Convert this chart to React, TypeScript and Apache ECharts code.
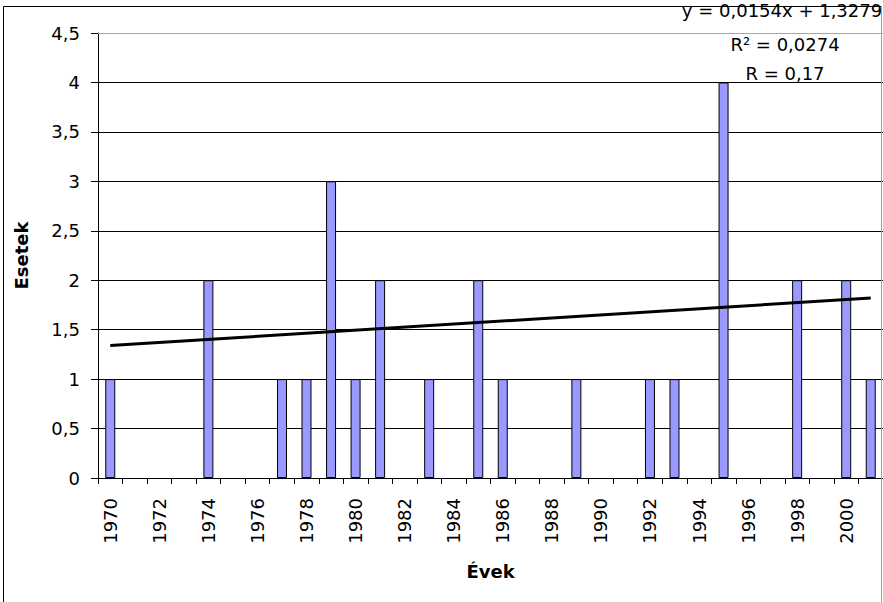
import React, { useEffect, useRef } from "react";
import * as echarts from "echarts";

const years: string[] = [
  "1970", "1971", "1972", "1973", "1974", "1975", "1976", "1977", "1978", "1979",
  "1980", "1981", "1982", "1983", "1984", "1985", "1986", "1987", "1988", "1989",
  "1990", "1991", "1992", "1993", "1994", "1995", "1996", "1997", "1998", "1999",
  "2000", "2001",
];
const cases: number[] = [
  1, 0, 0, 0, 2, 0, 0, 1, 1, 3,
  1, 2, 0, 1, 0, 2, 1, 0, 0, 1,
  0, 0, 1, 1, 0, 4, 0, 0, 2, 0,
  2, 1,
];
// trend line end points (first and last year)
const trendYears: string[] = ["1970", "2001"];
const trendValues: number[] = [1.34, 1.82];
const equationLines: string[] = ["y = 0,0154x + 1,3279", "R² = 0,0274", "R = 0,17"];
const yTicks = { min: 0, max: 4.5, interval: 0.5 };

const FONT = "DejaVu Sans";

export default function App() {
  const ref = useRef<HTMLDivElement>(null);
  useEffect(() => {
    if (!ref.current) return;
    const chart = echarts.init(ref.current, undefined, { renderer: "svg" });
    chart.setOption({
      animation: false,
      backgroundColor: "#ffffff",
      grid: { left: 98, top: 33, right: -4, bottom: 124, containLabel: false },
      xAxis: {
        type: "category",
        data: years,
        boundaryGap: true,
        name: "Évek",
        nameLocation: "middle",
        nameGap: 84,
        nameTextStyle: { fontFamily: FONT, fontSize: 18, fontWeight: "bold", color: "#000" },
        axisLine: { show: true, lineStyle: { color: "#000", width: 1 } },
        axisTick: { show: true, interval: 0, length: 6, lineStyle: { color: "#000" } },
        axisLabel: {
          interval: 1,
          rotate: 90,
          margin: 20,
          fontFamily: FONT,
          fontSize: 18,
          color: "#000",
        },
        splitLine: { show: false },
      },
      yAxis: {
        type: "value",
        min: yTicks.min,
        max: yTicks.max,
        interval: yTicks.interval,
        name: "Esetek",
        nameLocation: "middle",
        nameGap: 68,
        nameRotate: 90,
        nameTextStyle: { fontFamily: FONT, fontSize: 18, fontWeight: "bold", color: "#000" },
        axisLine: { show: true, lineStyle: { color: "#000", width: 1 } },
        axisTick: { show: true, length: 7, lineStyle: { color: "#000" } },
        axisLabel: {
          margin: 18,
          fontFamily: FONT,
          fontSize: 18,
          color: "#000",
          formatter: (v: number) => String(v).replace(".", ","),
        },
        splitLine: { show: true, lineStyle: { color: "#000", width: 1 } },
      },
      series: [
        {
          type: "bar",
          data: cases.map((v) => (v === 0 ? null : v)),
          barWidth: 10,
          itemStyle: { color: "#9999ff", borderColor: "#000", borderWidth: 1 },
          markLine: {
            silent: true,
            symbol: "none",
            label: { show: false },
            lineStyle: { color: "#a6a6a6", type: "solid", width: 1 },
            data: [{ yAxis: yTicks.max }],
          },
          z: 2,
        },
        {
          type: "line",
          data: trendYears.map((y, i) => [y, trendValues[i]]),
          symbol: "none",
          lineStyle: { color: "#000", width: 3 },
          z: 3,
        },
      ],
      graphic: [
        {
          type: "rect",
          shape: { x: 3.5, y: 6.5, width: 878, height: 640 },
          style: { fill: "none", stroke: "#000", lineWidth: 1 },
          z: -1,
        },
        {
          type: "line",
          shape: { x1: 881.5, y1: 6, x2: 881.5, y2: 602 },
          style: { stroke: "#a0a0a0", lineWidth: 1 },
          z: 10,
        },
        ...equationLines.map((t, i) => ({
          type: "text",
          x: [782, 785, 785][i],
          y: [10, 44, 73][i],
          style: {
            text: t,
            font: `18px "${FONT}"`,
            fill: "#000",
            textAlign: "center",
            textVerticalAlign: "middle",
          },
          z: 5,
        })),
      ],
    });
    return () => chart.dispose();
  }, []);
  return (
    <div
      ref={ref}
      style={{ position: "fixed", left: 0, top: 0, width: 883, height: 602, background: "#fff" }}
    />
  );
}
